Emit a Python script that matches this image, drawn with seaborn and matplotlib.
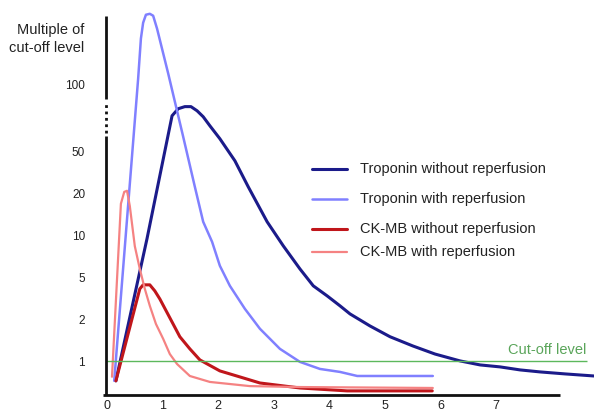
import numpy as np
import pandas as pd
import matplotlib
matplotlib.use("Agg")
import matplotlib.pyplot as plt
from matplotlib.lines import Line2D
from matplotlib.ticker import NullLocator
import seaborn as sns

# ---- data (days after onset, multiple of cut-off level) ----
trop_no_x = [0.16, 0.72, 1.17, 1.28, 1.40, 1.51, 1.62, 1.73, 1.85, 2.03, 2.30, 2.54, 2.88,
             3.17, 3.47, 3.71, 3.96, 4.19, 4.37, 4.73, 5.09, 5.50, 5.90, 6.35, 6.71,
             7.07, 7.43, 7.79, 8.24, 8.76]
trop_no_y = [0.72, 9.4, 71.7, 77.1, 78.8, 78.8, 75.5, 71.0, 64.7, 56.6, 40.2, 22.8, 12.4,
             8.34, 5.70, 4.11, 3.30, 2.66, 2.23, 1.78, 1.49, 1.28, 1.12, 1.0, 0.936,
             0.906, 0.862, 0.834, 0.807, 0.78]

trop_re_x = [0.13, 0.56, 0.61, 0.65, 0.70, 0.77, 0.83, 0.90, 1.10, 1.37, 1.58, 1.73, 1.89,
             2.03, 2.21, 2.48, 2.75, 3.11, 3.47, 3.83, 4.19, 4.50, 5.86]
trop_re_y = [0.72, 105, 159, 187, 203, 205, 201, 176, 111, 57.8, 22.8, 12.4, 8.91,
             6.0, 4.11, 2.49, 1.70, 1.22, 0.984, 0.876, 0.834, 0.78, 0.78]

ck_no_x = [0.16, 0.59, 0.65, 0.77, 0.86, 0.95, 1.17, 1.31, 1.49, 1.67, 2.03, 2.39, 2.75,
           3.47, 4.32, 5.85]
ck_no_y = [0.72, 3.85, 4.2, 4.2, 3.68, 3.09, 1.90, 1.49, 1.22, 1.017, 0.848, 0.768, 0.695,
           0.64, 0.61, 0.61]

ck_re_x = [0.09, 0.25, 0.31, 0.36, 0.41, 0.50, 0.59, 0.68, 0.77, 0.88, 1.01, 1.13, 1.26,
           1.49, 1.85, 2.57, 3.47, 5.86]
ck_re_y = [0.77, 16.7, 20.4, 20.9, 16.1, 8.3, 5.7, 3.85, 2.66, 1.84, 1.44, 1.12, 0.95,
           0.78, 0.707, 0.66, 0.65, 0.64]

series_names = ["Troponin without reperfusion", "Troponin with reperfusion",
                "CK-MB without reperfusion", "CK-MB with reperfusion"]
series_colors = ["#1b1b8a", "#8080ff", "#c0161b", "#f58282"]
series_widths = [2.2, 1.8, 2.2, 1.6]

x_ticks = [0, 1, 2, 3, 4, 5, 6, 7]
y_ticks = [1, 2, 5, 10, 20, 50, 100]
y_tick_labels = ["1", "2", "5", "10", "20", "50", "100"]
cutoff_value = 1

# ---- build table ----
frames = []
for name, xs, ys in zip(series_names,
                        [trop_no_x, trop_re_x, ck_no_x, ck_re_x],
                        [trop_no_y, trop_re_y, ck_no_y, ck_re_y]):
    frames.append(pd.DataFrame({"day": xs, "multiple": ys, "series": name}))
df = pd.concat(frames, ignore_index=True)

sns.set_theme(style="white")
plt.rcParams["font.family"] = ["Liberation Sans", "DejaVu Sans"]

fig = plt.figure(figsize=(5.94, 4.14), dpi=100)
ax = fig.add_axes([106 / 594, 18 / 414, 488 / 594, 384 / 414])

# piecewise-log scale as in the original figure
K = np.log10([0.01, 1, 2, 5, 10, 20, 50, 100, 1000])
P = np.array([-6.644, 0, 1, 2, 3, 4, 5, 6.6, 11.92])

def fwd(v):
    v = np.asarray(v, dtype=float)
    return np.interp(np.log10(np.clip(v, 1e-6, None)), K, P)

def inv(p):
    p = np.asarray(p, dtype=float)
    return 10 ** np.interp(p, P, K)

ax.set_yscale("function", functions=(fwd, inv))

for name, col, lw in zip(series_names, series_colors, series_widths):
    sub = df[df["series"] == name]
    sns.lineplot(data=sub, x="day", y="multiple", color=col, linewidth=lw,
                 sort=False, estimator=None, ax=ax, legend=False)
for ln in ax.lines:
    ln.set_solid_joinstyle("round")

ax.set_xlim(-0.018, 8.759)
ax.set_ylim(0.57, 211)

# cut-off line
ax.plot([-0.018, (587 - 107) / 55.6], [cutoff_value, cutoff_value],
        color="#5cb85c", lw=1.0, solid_capstyle="butt")
ax.text(0.985, cutoff_value * 1.09, "Cut-off level", transform=ax.get_yaxis_transform(),
        color="#5aa55a", fontsize=10.5, ha="right", va="bottom")

for s in ax.spines.values():
    s.set_visible(False)
ax.set_xlabel("")
ax.set_ylabel("")
ax.grid(False)

ax.set_xticks(x_ticks)
ax.set_xticklabels([str(t) for t in x_ticks])
ax.set_yticks(y_ticks)
ax.set_yticklabels(y_tick_labels)
ax.yaxis.set_minor_locator(NullLocator())
ax.tick_params(axis="y", length=0, pad=15, labelsize=8.5, labelcolor="#222222")
ax.tick_params(axis="x", length=0, pad=3, labelsize=9, labelcolor="#222222")

# axis lines (with break in the y axis)
ax.plot([-3 / 488, 454 / 488], [0, 0], transform=ax.transAxes, color="#111111",
        lw=2.0, clip_on=False, solid_capstyle="butt")
ax.plot([0, 0], [0, 0.674], transform=ax.transAxes, color="#111111",
        lw=2.0, clip_on=False, solid_capstyle="butt")
ax.plot([0, 0], [0.771, 0.987], transform=ax.transAxes, color="#111111",
        lw=2.0, clip_on=False, solid_capstyle="butt")
ax.plot([0, 0], [0.682, 0.763], transform=ax.transAxes, color="#111111",
        lw=2.0, clip_on=False, linestyle=(0, (1.0, 1.3)), solid_capstyle="butt")

# y axis title
fig.text(84 / 594, 1 - 39 / 414, "Multiple of\ncut-off level", ha="right", va="center",
         fontsize=10.5, color="#222222", linespacing=1.3)

# legend (drawn by hand to match the uneven spacing)
leg_rows = [170, 200, 230, 253]
for name, col, lw, py in zip(series_names, series_colors, series_widths, leg_rows):
    fig.add_artist(Line2D([312 / 594, 347 / 594], [1 - py / 414, 1 - py / 414],
                          color=col, lw=lw, transform=fig.transFigure))
    fig.text(360 / 594, 1 - (py - 1) / 414, name, ha="left", va="center",
             fontsize=10.5, color="#222222")

fig.savefig("out.png", dpi=100)
